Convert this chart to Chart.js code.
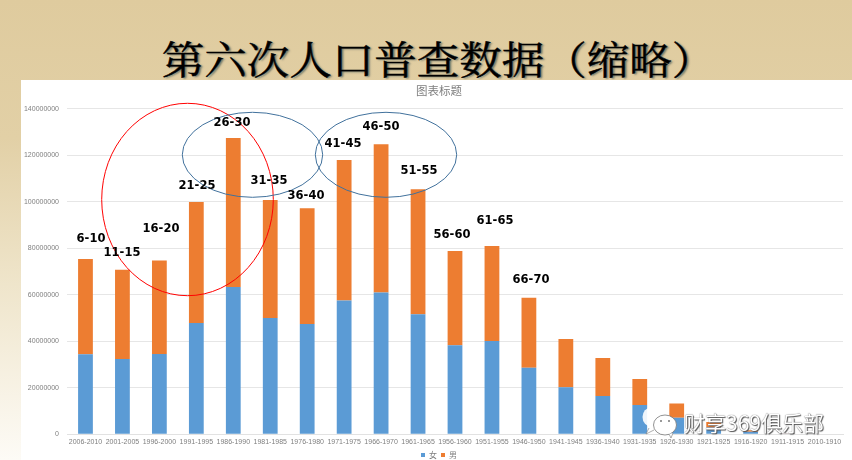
<!DOCTYPE html>
<html>
<head>
<meta charset="utf-8">
<script src="https://cdn.jsdelivr.net/npm/chart.js@4"></script>
<style>
  html, body { margin: 0; padding: 0; }
  #slide {
    position: relative; width: 852px; height: 460px; overflow: hidden;
    background: linear-gradient(180deg, #dfcb9e 0%, #e2d0a6 30%, #efe5cb 62%, #fdfbf6 100%);
  }
  #heading {
    position: absolute; left: 0; top: 30px; width: 876px; text-align: center;
    font: 400 42.5px/54px "Noto Serif CJK SC", "Noto Sans CJK SC", serif; color: #000;
    -webkit-text-stroke: .5px #000;
    text-shadow: 2px 2px 2px rgba(20, 50, 60, .55);
    transform: scaleY(.92);
  }
  #panel { position: absolute; left: 21px; top: 80px; width: 831px; height: 380px; background: #fff; }
  #overlay { position: absolute; left: 0; top: 0; }
  .age {
    position: absolute; transform: translate(-50%, -50%); white-space: nowrap;
    font: 700 11.5px "DejaVu Sans", sans-serif; color: #000;
  }
  #mark {
    position: absolute; left: 684px; top: 409px; white-space: nowrap;
    font: 400 21px/26px "Noto Sans CJK SC", sans-serif; color: #fff;
    text-shadow: 0 0 1px #444, 1px 1px 1px #555;
  }
</style>
</head>
<body>
<div id="slide">
  <div id="heading">第六次人口普查数据（缩略）</div>
  <div id="panel"><canvas id="popChart" width="836" height="380"></canvas></div>
  <svg id="overlay" width="852" height="460" fill="none">
    <ellipse cx="187.5" cy="199.5" rx="85.8" ry="96.2" stroke="#f00" stroke-width="1"/>
    <ellipse cx="252.5" cy="154.8" rx="70.2" ry="42.5" stroke="#41719c" stroke-width="1"/>
    <ellipse cx="386" cy="154.8" rx="70.7" ry="42.5" stroke="#41719c" stroke-width="1"/>
    <ellipse cx="651" cy="417" rx="8.5" ry="9.5" fill="#fff" opacity=".9"/>
    <path d="M649 428 L646 434 L654 430" fill="#fff" stroke="#777" stroke-width=".6"/>
    <ellipse cx="665" cy="425" rx="11.5" ry="10" fill="#fff" stroke="#777" stroke-width=".8"/>
    <path d="M669 434 L671 438 L673 433" fill="#fff" stroke="#777" stroke-width=".6"/>
    <circle cx="661" cy="421" r="1" fill="#777"/>
    <circle cx="669" cy="421" r="1" fill="#777"/>
  </svg>
  <div id="mark">财享369俱乐部</div>
</div>
<script>
const categories = ['2006-2010', '2001-2005', '1996-2000', '1991-1995', '1986-1990', '1981-1985', '1976-1980',
    '1971-1975', '1966-1970', '1961-1965', '1956-1960', '1951-1955', '1946-1950', '1941-1945', '1936-1940',
    '1931-1935', '1926-1930', '1921-1925', '1916-1920', '1911-1915', '2010-1910'];
const female = [34400000, 32400000, 34500000, 47900000, 63400000, 50000000, 47400000, 57600000, 61000000, 51600000,
    38300000, 40100000, 28600000, 20200000, 16500000, 12600000, 7100000, 2900000, 1100000, 100000, 0];
const male = [41000000, 38400000, 40300000, 52000000, 64000000, 50800000, 49800000, 60400000, 63700000, 53800000,
    40500000, 40900000, 30100000, 20800000, 16300000, 11200000, 6200000, 2400000, 600000, 100000, 0];
const ageLabels = ['6-10', '11-15', '16-20', '21-25', '26-30', '31-35', '36-40', '41-45', '46-50', '51-55', '56-60', '61-65', '66-70'];
const ageLabelSpots = [[91, 238], [122, 252], [161, 228], [197, 185], [232, 122], [269, 180], [306, 195],
    [343, 143], [381, 126], [419, 170], [452, 234], [495, 220], [531, 279]];

// age band captions sit on top of the chart like in the slide
ageLabels.forEach(function(text, i) {
    const el = document.createElement('div');
    el.className = 'age';
    el.textContent = text;
    el.style.left = ageLabelSpots[i][0] + 'px';
    el.style.top = ageLabelSpots[i][1] + 'px';
    document.getElementById('slide').appendChild(el);
});

const tickFont = { family: '"Liberation Sans", sans-serif', size: 7 };
new Chart(document.getElementById('popChart').getContext('2d'), {
    type: 'bar',
    data: {
        labels: categories,
        datasets: [
            { label: '女', data: female, backgroundColor: '#5b9bd5' },
            { label: '男', data: male, backgroundColor: '#ed7d31' }
        ]
    },
    options: {
        responsive: false,
        animation: false,
        categoryPercentage: 0.4,
        barPercentage: 1,
        layout: { padding: { left: 0, right: 0, top: 4, bottom: -9 } },
        plugins: {
            tooltip: { enabled: false },
            title: {
                display: true,
                text: '图表标题',
                color: '#7f7f7f',
                font: { family: '"Noto Sans CJK SC", sans-serif', size: 11.5, weight: 'normal' },
                padding: { top: 0, bottom: 11 }
            },
            legend: {
                position: 'bottom',
                labels: {
                    boxWidth: 4, boxHeight: 4, padding: 4, color: '#7f7f7f',
                    font: { family: '"Noto Sans CJK SC", sans-serif', size: 8 }
                }
            }
        },
        scales: {
            x: {
                stacked: true,
                afterFit: function(scale) { scale.height = 12.7; },
                grid: { display: false, drawTicks: false },
                border: { color: '#e2e2e2' },
                ticks: { color: '#7f7f7f', font: tickFont, maxRotation: 0, autoSkip: false, padding: 4 }
            },
            y: {
                stacked: true,
                min: 0,
                max: 140000000,
                afterFit: function(scale) { scale.width = 46; },
                grid: { color: '#e6e6e6', drawTicks: false },
                border: { display: false },
                ticks: {
                    stepSize: 20000000, color: '#7f7f7f', font: tickFont, padding: 8,
                    callback: function(value) { return String(value); }
                }
            },
            // empty right axis only keeps the plot area off the canvas edge
            spacer: {
                position: 'right',
                afterFit: function(scale) { scale.width = 14; },
                grid: { display: false },
                border: { display: false },
                ticks: { display: false }
            }
        }
    }
});
</script>
</body>
</html>
